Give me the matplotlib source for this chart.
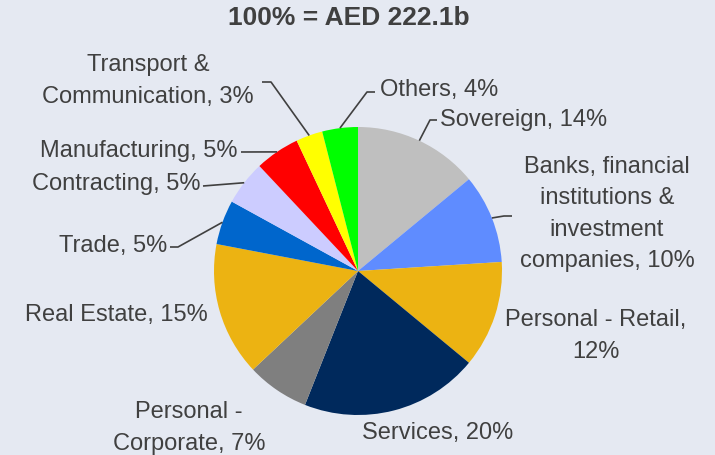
import matplotlib
matplotlib.use("Agg")
import matplotlib.pyplot as plt
import numpy as np

# ---- data ----
categories = ["Sovereign", "Banks, financial institutions & investment companies",
              "Personal - Retail", "Services", "Personal - Corporate", "Real Estate",
              "Trade", "Contracting", "Manufacturing", "Transport & Communication", "Others"]
values = [14, 10, 12, 20, 7, 15, 5, 5, 5, 3, 4]
labels = ["Sovereign, 14%",
          "Banks, financial\ninstitutions &\ninvestment\ncompanies, 10%",
          "Personal - Retail,\n12%",
          "Services, 20%",
          "Personal -\nCorporate, 7%",
          "Real Estate, 15%",
          "Trade, 5%",
          "Contracting, 5%",
          "Manufacturing, 5%",
          "Transport &\nCommunication, 3%",
          "Others, 4%"]
title = "100% = AED 222.1b"

# ---- style / layout ----
colors = ["#bfbfbf", "#5f8cff", "#ecb312", "#00295c", "#7f7f7f", "#ecb312",
          "#0066cc", "#ccccff", "#ff0000", "#ffff00", "#00ff00"]
bg = "#e5e9f2"
txt = "#404040"
font = "Liberation Sans"

# text anchor (x, y, ha) in pixel coordinates, and leader elbow point (or None)
text_pos = [(440, 120, "left"), (607, 214, "center"), (596, 336, "center"),
            (438, 433, "center"), (189, 428, "center"), (116, 315, "center"),
            (167, 246, "right"), (200, 184, "right"), (238, 151, "right"),
            (148, 81, "center"), (380, 90, "left")]
leader = [[(437, 120), (430, 120)],
          [(512, 216), (504, 216)],
          None, None, None, None,
          [(170, 247), (178, 247)],
          [(203, 186)],
          [(241, 152)],
          [(262, 82), (271, 82)],
          [(375, 92), (367, 92)]]

fig = plt.figure(figsize=(7.15, 4.55), dpi=100)
fig.patch.set_facecolor(bg)
ax = fig.add_axes([0, 0, 1, 1])
ax.set_facecolor(bg)

cx, cy, r = 358, 271, 144
wedges, _ = ax.pie(values, colors=colors, startangle=-90, counterclock=True,
                   radius=r, center=(cx, cy), wedgeprops=dict(linewidth=0))
ax.set_xlim(0, 715)
ax.set_ylim(455, 0)
ax.set_aspect("equal")
ax.axis("off")

for w, lab, (tx, ty, ha), ld in zip(wedges, labels, text_pos, leader):
    ax.text(tx, ty, lab, ha=ha, va="center", multialignment="center",
            fontsize=17, color=txt, family=font, linespacing=1.55)
    if ld is not None:
        mid = np.deg2rad((w.theta1 + w.theta2) / 2)
        px, py = cx + r * np.cos(mid), cy + r * np.sin(mid)
        xs = [p[0] for p in ld] + [px]
        ys = [p[1] for p in ld] + [py]
        ax.plot(xs, ys, color=txt, lw=1.2, solid_capstyle="butt")

ax.text(349, 18, title, ha="center", va="center", fontsize=19,
        fontweight="bold", color=txt, family=font)

fig.savefig("out.png", dpi=100, facecolor=bg)
